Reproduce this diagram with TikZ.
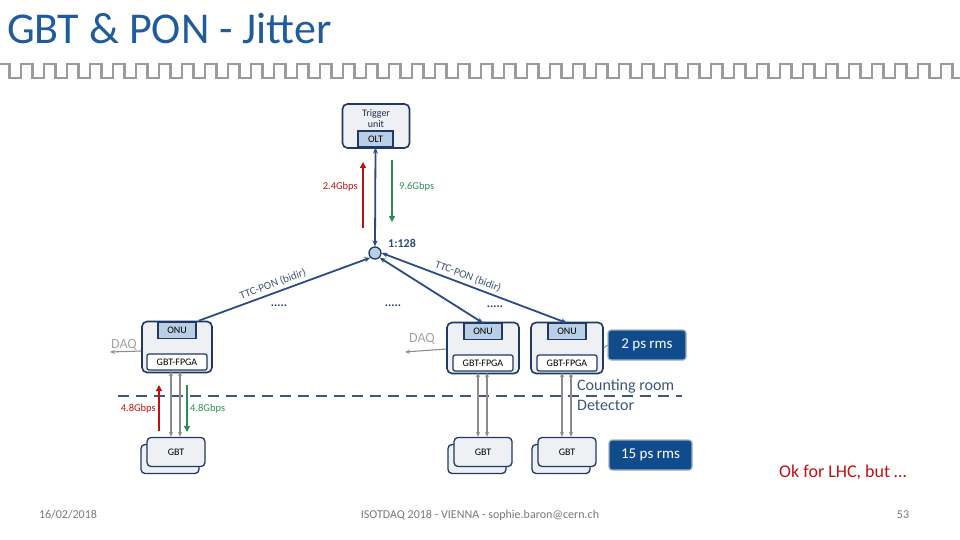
\documentclass[tikz,border=0pt]{standalone}
\usepackage{fontspec}
\setmainfont{Carlito}
\usetikzlibrary{arrows.meta}
\definecolor{navy}{RGB}{31,56,100}
\definecolor{lnavy}{RGB}{44,76,128}
\definecolor{boxfill}{RGB}{238,240,244}
\definecolor{onufill}{RGB}{184,207,230}
\definecolor{titleblue}{RGB}{31,92,153}
\definecolor{rred}{RGB}{192,16,16}
\definecolor{rgreen}{RGB}{46,139,87}
\definecolor{tagfill}{RGB}{16,76,140}
\definecolor{tagedge}{RGB}{160,176,196}
\definecolor{greyline}{RGB}{140,140,140}
\definecolor{wavegrey}{RGB}{155,155,155}
\definecolor{labtxt}{RGB}{60,85,120}
\definecolor{foot}{RGB}{120,120,120}
\tikzset{
  x=1pt,y=-1pt,
  outerbox/.style={draw=navy,line width=1.6pt,fill=boxfill,rounded corners=5pt,minimum width=#1,minimum height=51pt,inner sep=0pt},
  gbtbox/.style={draw=navy,line width=1.3pt,fill=boxfill,rounded corners=4pt,minimum width=58pt,minimum height=29pt,inner sep=0pt,font=\fontsize{10}{11}\selectfont},
  onubox/.style={draw=navy,line width=1.2pt,fill=onufill,minimum width=38pt,minimum height=16pt,inner sep=0pt,font=\fontsize{10}{11}\selectfont},
  fpgabox/.style={draw=navy,line width=1.2pt,fill=white,rounded corners=2pt,minimum width=60pt,minimum height=16pt,inner sep=0pt,font=\fontsize{10}{11}\selectfont},
  tag/.style={draw=tagedge,line width=1.2pt,fill=tagfill,text=white,rounded corners=3pt,minimum height=30pt,inner sep=0pt,font=\fontsize{15}{16}\selectfont},
  pon/.style={draw=lnavy,line width=1.8pt},
  ptip/.style={-{Stealth[length=6pt,width=5pt]}},
  greyarr/.style={draw=greyline,line width=1.1pt,{Stealth[length=5pt,width=4pt]}-{Stealth[length=5pt,width=4pt]}},
  daqarr/.style={draw=greyline,line width=1.1pt,-{Stealth[length=5pt,width=4pt]}},
  ratered/.style={draw=rred,line width=2.4pt,-{Triangle[length=6pt,width=6pt]}},
  rategreen/.style={draw=rgreen,line width=2.4pt,-{Triangle[length=6pt,width=6pt]}},
  ratetxt/.style={font=\fontsize{10.5}{11}\selectfont,inner sep=0pt},
  dots/.style={text=navy,font=\fontsize{12}{12}\selectfont\bfseries,inner sep=0pt},
  daqtxt/.style={text=greyline!80,font=\fontsize{14}{15}\selectfont,inner sep=0pt},
  ponlab/.style={text=labtxt,font=\fontsize{11}{12}\selectfont,inner sep=0pt,sloped},
  foottxt/.style={text=foot,font=\fontsize{12}{13}\selectfont,inner sep=0pt}
}
\begin{document}
\begin{tikzpicture}
\useasboundingbox (0,0) rectangle (960,540);
% title and wave
\node[anchor=base west,inner sep=0pt,text=titleblue,font=\fontsize{44}{46}\selectfont] (title) at (7,44) {GBT \& PON - Jitter};
\draw[wavegrey,line width=2.6pt] (-2,64) \foreach \i in {1,...,42} { -- ++(11.5,0) -- ++(0,14) -- ++(11.5,0) -- ++(0,-14) };
% trigger unit
\node[outerbox=67pt,minimum height=44pt] (trig) at (376,126) {};
\node[inner sep=0pt,align=center,font=\fontsize{10}{11}\selectfont,text=navy!80!black] (trigtxt) at (376,119) {Trigger\\unit};
\node[onubox,minimum width=35pt] (olt) at (375.5,139) {OLT};
% splitter
\node[circle,draw=navy,line width=1.3pt,fill=onufill,minimum size=12pt,inner sep=0pt] (split) at (375,253) {};
\node[text=lnavy,font=\fontsize{12}{12}\selectfont\bfseries,inner sep=0pt] (ratio) at (402,243) {1:128};
\draw[pon,{Stealth[length=6pt,width=5pt]}-{Stealth[length=6pt,width=5pt]}] (olt.south) -- (split.north);
% rate arrows top
\coordinate (r1a) at (363,228); \coordinate (r1b) at (363,162);
\coordinate (g1a) at (392,160); \coordinate (g1b) at (392,222);
\draw[ratered] (r1a) -- (r1b);
\draw[rategreen] (g1a) -- (g1b);
\node[ratetxt,text=rred,anchor=east] (t24) at (358,187) {2.4Gbps};
\node[ratetxt,text=rgreen,anchor=west] (t96) at (399,187) {9.6Gbps};
% ONU boxes
\node[outerbox=70pt] (onuL) at (177,347) {};
\node[onubox,anchor=north] (onuLi) at (177,322) {ONU};
\node[fpgabox] (fpgaL) at (177,362) {GBT-FPGA};
\node[outerbox=72pt] (onuM) at (483,348) {};
\node[onubox,anchor=north] (onuMi) at (483,323) {ONU};
\node[fpgabox] (fpgaM) at (483,363) {GBT-FPGA};
\node[outerbox=72pt] (onuR) at (567,348) {};
\node[onubox,anchor=north] (onuRi) at (567,323) {ONU};
\node[fpgabox] (fpgaR) at (567,363) {GBT-FPGA};
% PON links
\draw[pon,ptip] (onuL.north east) ++(-14,0) coordinate (lstart) (lstart) -- (split.south west) node[ponlab,pos=0.45,above=3pt] {TTC-PON (bidir)};
\draw[pon,{Stealth[length=6pt,width=5pt]}-{Stealth[length=6pt,width=5pt]}] (split.south east) -- (onuMi.north);
\draw[pon,{Stealth[length=6pt,width=5pt]}-{Stealth[length=6pt,width=5pt]}] (split.east) -- (onuRi.north) node[ponlab,pos=0.45,above=3pt] {TTC-PON (bidir)};
\node[dots] (d1) at (279,306) {.....};
\node[dots] (d2) at (393,306) {.....};
\node[dots] (d3) at (495,307) {.....};
% DAQ
\coordinate (daqL) at (110,352);
\coordinate (daqM) at (405,352);
\draw[daqarr] (onuL.west |- 0,351) -- (daqL);
\draw[daqarr] (onuM.west |- 0,349) -- (daqM);
\node[daqtxt] (daqLt) at (124,345) {DAQ};
\node[daqtxt] (daqMt) at (422,339) {DAQ};
% tags
\node[tag,minimum width=78pt] (tag2) at (647,345) {2 ps rms};
\draw[greyline,line width=1pt] (onuR.east) -- (tag2.west);
\node[tag,minimum width=83pt] (tag15) at (650.5,455) {15 ps rms};
% dashed boundary
\draw[navy!85,line width=2.4pt,dash pattern=on 11pt off 7pt] (118,396) -- (682,396);
\node[anchor=west,inner sep=0pt,text=labtxt,font=\fontsize{16}{17}\selectfont] (cr) at (577,386) {Counting room};
\node[anchor=west,inner sep=0pt,text=labtxt,font=\fontsize{16}{17}\selectfont] (det) at (577,405) {Detector};
% GBT boxes
\node[gbtbox] (gbtLb) at (170,459) {};
\node[gbtbox] (gbtL) at (176,452) {GBT};
\node[gbtbox] (gbtMb) at (477,459) {};
\node[gbtbox] (gbtM) at (483,452) {GBT};
\node[gbtbox] (gbtRb) at (561,459) {};
\node[gbtbox] (gbtR) at (567,452) {GBT};
% grey links
\draw[greyarr] ([yshift=2pt]onuL.south -| 171,0) -- (gbtL.north -| 171,0);
\draw[greyarr] ([yshift=2pt]onuL.south -| 180,0) -- (gbtL.north -| 180,0);
\draw[greyarr] ([yshift=2pt]onuM.south -| 478,0) -- (gbtM.north -| 478,0);
\draw[greyarr] ([yshift=2pt]onuM.south -| 487,0) -- (gbtM.north -| 487,0);
\draw[greyarr] ([yshift=2pt]onuR.south -| 562,0) -- (gbtR.north -| 562,0);
\draw[greyarr] ([yshift=2pt]onuR.south -| 571,0) -- (gbtR.north -| 571,0);
% rate arrows bottom
\coordinate (r2a) at (159,431); \coordinate (r2b) at (159,385);
\coordinate (g2a) at (187,385); \coordinate (g2b) at (187,432);
\draw[ratered] (r2a) -- (r2b);
\draw[rategreen] (g2a) -- (g2b);
\node[ratetxt,text=rred,anchor=east] (t48a) at (156,409) {4.8Gbps};
\node[ratetxt,text=rgreen,anchor=west] (t48b) at (190,409) {4.8Gbps};
% remark and footer
\node[anchor=base west,inner sep=0pt,text=rred,font=\fontsize{18}{19}\selectfont] (ok) at (779,477) {Ok for LHC, but …};
\node[foottxt] (date) at (68,515) {16/02/2018};
\node[foottxt] (conf) at (480,515) {ISOTDAQ 2018 - VIENNA - sophie.baron@cern.ch};
\node[foottxt] (page) at (903,515) {53};
\end{tikzpicture}
\end{document}
